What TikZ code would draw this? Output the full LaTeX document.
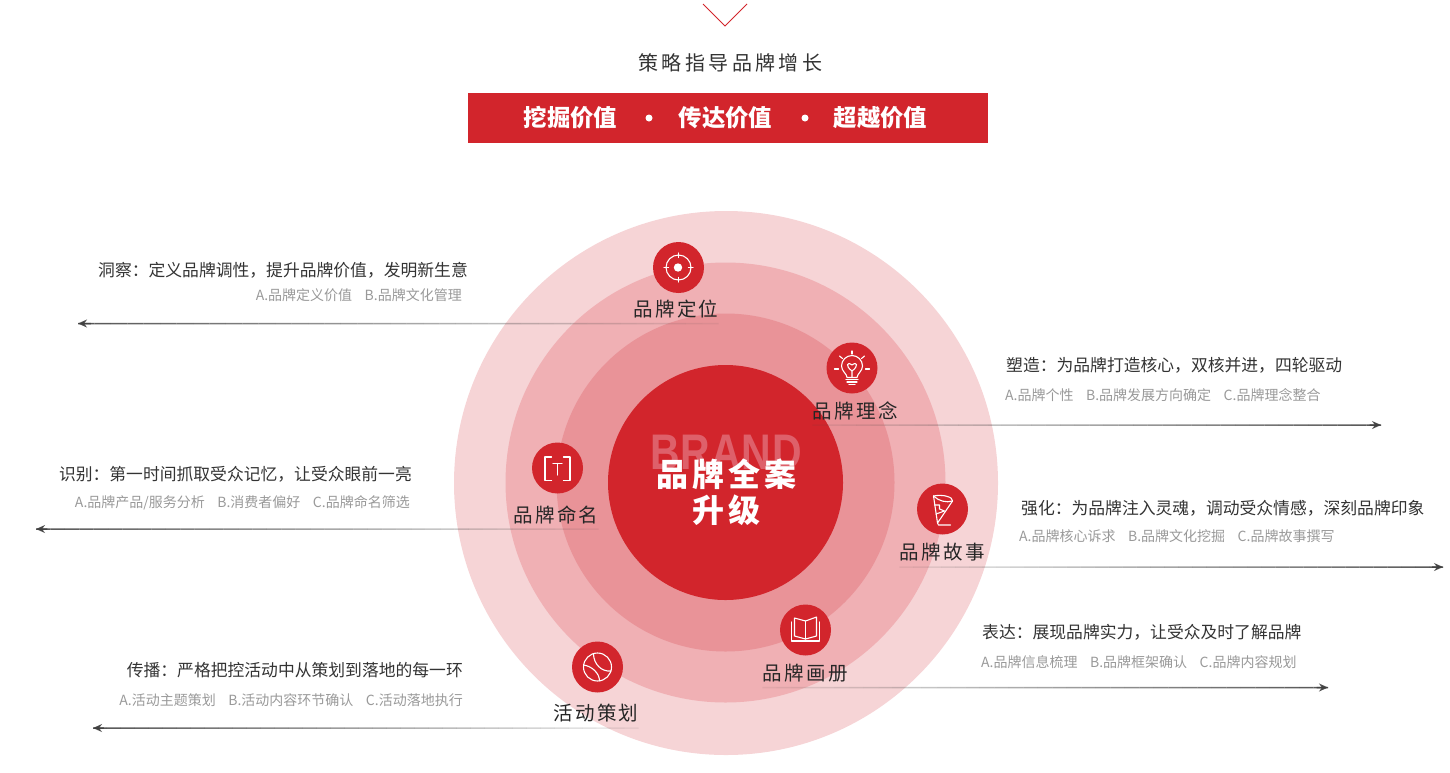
\documentclass[tikz,border=0pt]{standalone}
\usepackage{xcolor}
\usepackage{fontspec}
\usepackage{tikz}
\usetikzlibrary{arrows.meta, positioning, calc}
\setmainfont{Noto Sans CJK SC}
\newfontfamily\hurufjarang[LetterSpace=12]{Noto Sans CJK SC}
\newfontfamily\hurufslogan[LetterSpace=17]{Noto Sans CJK SC}
\newfontfamily\hurufbrand[LetterSpace=2]{Liberation Sans Bold}
\definecolor{merahinti}{RGB}{210, 37, 44}
\definecolor{merahtiga}{RGB}{233, 147, 152}
\definecolor{merahdua}{RGB}{240, 176, 180}
\definecolor{merahsatu}{RGB}{246, 212, 214}
\definecolor{merahbrand}{RGB}{222, 96, 106}
\definecolor{teksgelap}{RGB}{51, 51, 51}
\definecolor{teksabu}{RGB}{153, 153, 153}
\newcommand{\jeda}{\hspace{12.5pt}}
% Garis memudar: dari label (tipis) ke ujung panah (pekat).
\newcommand{\garispudar}[2]{
  \foreach \i in {0,...,38} {
    \pgfmathsetmacro{\ta}{\i/39}
    \pgfmathsetmacro{\tb}{(\i+1)/39}
    \pgfmathsetmacro{\op}{0.08+0.8*\i/38}
    \draw[garis, opacity=\op] ($(#1)!\ta!(#2)$) -- ($(#1)!\tb!(#2)$);
  }
  \draw[panah, opacity=0.9] ($(#1)!0.98!(#2)$) -- (#2);
}
\begin{document}
\begin{tikzpicture}[
    x=1pt, y=-1pt,
    lingkaran/.style={circle, inner sep=0pt},
    titik/.style={lingkaran, fill=merahinti, minimum size=51pt},
    label/.style={minimum height=29pt, inner sep=0pt, text=black!85,
                  font=\fontsize{19.5pt}{19.5pt}\selectfont\hurufjarang},
    judul/.style={inner sep=0pt, text=teksgelap, font=\fontsize{16.8pt}{20pt}\selectfont},
    rincian/.style={inner sep=0pt, text=teksabu, font=\fontsize{14pt}{17pt}\selectfont},
    nilai/.style={inner sep=0pt, text=white, font=\fontsize{23.4pt}{26pt}\selectfont\bfseries},
    garis/.style={draw=black!75, line width=1.5pt},
    panah/.style={-{Stealth[length=9pt, width=8pt]}, draw=black!75, line width=1.5pt},
    ikon/.style={draw=white, line width=1.1pt, line cap=round, line join=round}
  ]
    \useasboundingbox (0,0) rectangle (1450,772);
    \coordinate (lekukkiri) at (703,4);
    \coordinate (lekukbawah) at (725,26);
    \coordinate (lekukkanan) at (747,4);
    \draw[merahinti, line width=0.9pt] (lekukkiri) -- (lekukbawah) -- (lekukkanan);
    \node[inner sep=0pt, text=teksgelap, font=\fontsize{20pt}{22pt}\selectfont\hurufslogan] (slogan) at (730.5,63) {策略指导品牌增长};
    \node[fill=merahinti, minimum width=520pt, minimum height=50pt, inner sep=0pt] (pita) at (728,118) {};
    \node[nilai] (nilai1) at (570.5,118) {挖掘价值};
    \node[lingkaran, fill=white, minimum size=7pt] (bulat1) at (649,118) {};
    \node[nilai] (nilai2) at (725.5,118) {传达价值};
    \node[lingkaran, fill=white, minimum size=7pt] (bulat2) at (805,118) {};
    \node[nilai] (nilai3) at (880.5,118) {超越价值};

    \node[lingkaran, fill=merahsatu, minimum size=544pt] (luar) at (726,483) {};
    \node[lingkaran, fill=merahdua, minimum size=440pt] (tengah) at (725.5,482.5) {};
    \node[lingkaran, fill=merahtiga, minimum size=338pt] (dalam) at (725.5,482.5) {};
    \node[lingkaran, fill=merahinti, minimum size=235pt] (inti) at (725.5,482.5) {};
    \node[inner sep=0pt, text=merahbrand, xscale=0.82, transform shape,
          font=\fontsize{50pt}{50pt}\selectfont\hurufbrand] (brand) at (726,452) {BRAND};
    \node[inner sep=0pt, text=white, font=\fontsize{32pt}{32pt}\selectfont\hurufjarang\bfseries] (inti1) at (726.5,474) {品牌全案};
    \node[inner sep=0pt, text=white, font=\fontsize{32pt}{32pt}\selectfont\hurufjarang\bfseries] (inti2) at (726.5,510) {升级};

    \node[titik] (posisi) at (678.5,267.5) {};
    \node[titik] (konsep) at (852,368) {};
    \node[titik] (nama) at (557.5,468) {};
    \node[titik] (kisah) at (942.5,509) {};
    \node[titik] (album) at (805.5,630) {};
    \node[titik] (acara) at (597.5,667) {};

    \node[label] (lposisi) at (676,309) {品牌定位};
    \node[label] (lkonsep) at (855,410.5) {品牌理念};
    \node[label] (lnama) at (556,514.5) {品牌命名};
    \node[label] (lkisah) at (942,552.5) {品牌故事};
    \node[label] (lalbum) at (805,673) {品牌画册};
    \node[label] (lacara) at (596,713.5) {活动策划};

    \coordinate (ujung1) at (78,323.5);
    \coordinate (ujung2) at (1381,425);
    \coordinate (ujung3) at (36,529);
    \coordinate (ujung4) at (1443,567);
    \coordinate (ujung5) at (1328,687.5);
    \coordinate (ujung6) at (93,728);
    \garispudar{lposisi.south east}{ujung1}
    \garispudar{lkonsep.south west}{ujung2}
    \garispudar{lnama.south east}{ujung3}
    \garispudar{lkisah.south west}{ujung4}
    \garispudar{lalbum.south west}{ujung5}
    \garispudar{lacara.south east}{ujung6}

    \node[judul, anchor=east] (j1) at (468,270) {洞察：定义品牌调性，提升品牌价值，发明新生意};
    \node[rincian, anchor=east] (r1) at (462,295) {A.品牌定义价值\jeda B.品牌文化管理};
    \node[judul, anchor=west] (j2) at (1006,365) {塑造：为品牌打造核心，双核并进，四轮驱动};
    \node[rincian, anchor=west] (r2) at (1005,395) {A.品牌个性\jeda B.品牌发展方向确定\jeda C.品牌理念整合};
    \node[judul, anchor=east] (j3) at (412,474) {识别：第一时间抓取受众记忆，让受众眼前一亮};
    \node[rincian, anchor=east] (r3) at (410,503) {A.品牌产品/服务分析\jeda B.消费者偏好\jeda C.品牌命名筛选};
    \node[judul, anchor=west] (j4) at (1021,508) {强化：为品牌注入灵魂，调动受众情感，深刻品牌印象};
    \node[rincian, anchor=west] (r4) at (1019,536) {A.品牌核心诉求\jeda B.品牌文化挖掘\jeda C.品牌故事撰写};
    \node[judul, anchor=west] (j5) at (982,632) {表达：展现品牌实力，让受众及时了解品牌};
    \node[rincian, anchor=west] (r5) at (981,662) {A.品牌信息梳理\jeda B.品牌框架确认\jeda C.品牌内容规划};
    \node[judul, anchor=east] (j6) at (463,670) {传播：严格把控活动中从策划到落地的每一环};
    \node[rincian, anchor=east] (r6) at (463,700) {A.活动主题策划\jeda B.活动内容环节确认\jeda C.活动落地执行};

    \begin{scope}[shift={(posisi.center)}]
      \draw[ikon] (0,0) circle (12.5);
      \fill[white] (-0.5,0) circle (4.2);
      \foreach \a in {0,90,180,270} { \draw[ikon] (\a:10) -- (\a:14.5); }
    \end{scope}
    \begin{scope}[shift={(konsep.center)}]
      \draw[ikon] (-5,9.5) .. controls (-5,6) and (-10.5,3) .. (-10.5,-2)
        arc (180:360:10.5) .. controls (10.5,3) and (5,6) .. (5,9.5) -- cycle;
      \draw[ikon] (0,3) .. controls (-7,-2) and (-5,-7) .. (0,-3)
        .. controls (5,-7) and (7,-2) .. (0,3) -- (0,9.5);
      \draw[ikon] (-6,11.5) -- (6,11.5) (-5,14) -- (5,14) (-3,16.5) -- (3,16.5);
      \draw[ikon] (0,-17) -- (0,-14) (-17.5,1) -- (-13.5,1) (17.5,1) -- (13.5,1);
      \draw[ikon] (-12.5,-12) -- (-9.5,-9.5) (12.5,-12) -- (9.5,-9.5);
    \end{scope}
    \begin{scope}[shift={(nama.center)}]
      \draw[ikon] (-6,-11) -- (-12.5,-11) -- (-12.5,12.5) -- (-6,12.5);
      \draw[ikon] (6,-11) -- (12.5,-11) -- (12.5,12.5) -- (6,12.5);
      \draw[ikon] (-4.5,-4.5) -- (4.5,-4.5) (0,-4.5) -- (0,7);
    \end{scope}
    \begin{scope}[shift={(kisah.center)}]
      \draw[ikon] (-9,-13) .. controls (0,-15) and (11,-12) .. (10,-8);
      \draw[ikon] (-9,-13) .. controls (-4,-8) and (4,-6) .. (10,-8);
      \draw[ikon] (-9,-13) -- (-5,14) -- (10,-8);
      \draw[ikon] (-5,14) -- (-4,16) -- (8,16);
      \draw[ikon] (-8,-4) -- (-3,-4) -- (-3,0) -- (2,2) -- (-6.5,5);
    \end{scope}
    \begin{scope}[shift={(album.center)}]
      \draw[ikon] (-14,-8) -- (-14,11) -- (14,11) -- (14,-8);
      \draw[ikon] (0,-9) -- (-11,-12) -- (-11,6) -- (0,9) -- (11,6) -- (11,-13) -- cycle;
      \draw[ikon] (0,-9) -- (0,9);
    \end{scope}
    \begin{scope}[shift={(acara.center)}]
      \draw[ikon] (0,0) circle (14);
      \draw[ikon] (-4,-13.4) .. controls (-4,-3) and (4,5) .. (13.5,4);
      \draw[ikon] (-14,-2) .. controls (-6,-1) and (2,6) .. (2,13.8);
    \end{scope}
  \end{tikzpicture}
\end{document}
